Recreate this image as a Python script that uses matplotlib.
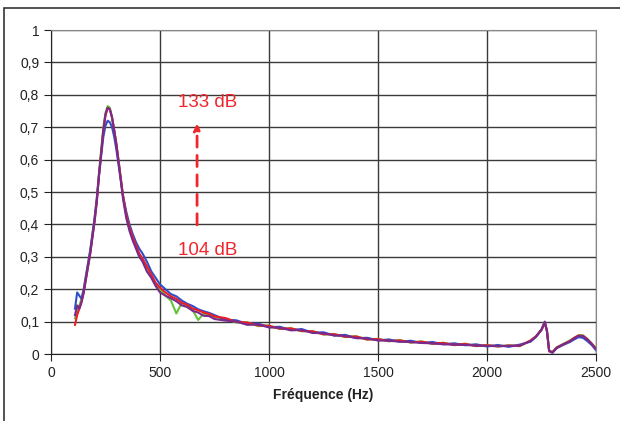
import matplotlib
matplotlib.use("Agg")
import matplotlib.pyplot as plt
from matplotlib.patches import Rectangle

plt.rcParams['font.family'] = ['Liberation Sans', 'DejaVu Sans']

freq = [110, 120, 130, 140, 150, 160, 170, 180, 190, 200,
        210, 220, 230, 240, 250, 260, 270, 280, 290, 300,
        315, 330, 345, 360, 375, 390, 405,
        420, 440, 460, 480, 500,
        525, 550, 575, 600, 625, 650, 675, 700, 725, 750,
        800, 850, 900, 950, 1000, 1050, 1100, 1150, 1200, 1250,
        1300, 1350, 1400, 1450, 1500, 1550, 1600, 1650, 1700, 1750,
        1800, 1850, 1900, 1950, 2000, 2050, 2100, 2150, 2200,
        2225, 2250, 2265, 2275, 2285, 2300, 2320, 2350, 2380, 2400,
        2420, 2440, 2460, 2480, 2500]

green = [0.11, 0.13, 0.15, 0.17, 0.20, 0.24, 0.28, 0.32, 0.37, 0.42,
         0.48, 0.56, 0.63, 0.70, 0.745, 0.765, 0.76, 0.73, 0.69, 0.645,
         0.57, 0.49, 0.43, 0.385, 0.355, 0.33, 0.30,
         0.29, 0.255, 0.24, 0.215, 0.2,
         0.18, 0.165, 0.125, 0.158, 0.145, 0.135, 0.105, 0.125, 0.12, 0.114,
         0.109, 0.097, 0.098, 0.086, 0.088, 0.077, 0.08, 0.07, 0.071, 0.06,
         0.062, 0.052, 0.055, 0.044, 0.047, 0.039, 0.043, 0.035, 0.039, 0.031,
         0.035, 0.027, 0.032, 0.024, 0.028, 0.023, 0.027, 0.024, 0.041,
         0.054, 0.075, 0.098, 0.07, 0.011, 0.006, 0.021, 0.031, 0.042, 0.05,
         0.058, 0.058, 0.047, 0.033, 0.018]

blue = [0.14, 0.19, 0.18, 0.17, 0.20, 0.24, 0.28, 0.32, 0.37, 0.42,
        0.48, 0.55, 0.61, 0.67, 0.705, 0.72, 0.715, 0.70, 0.67, 0.63,
        0.56, 0.49, 0.44, 0.40, 0.37, 0.345, 0.325,
        0.31, 0.285, 0.255, 0.235, 0.215,
        0.2, 0.185, 0.178, 0.165, 0.155, 0.148, 0.138, 0.132, 0.127, 0.12,
        0.106, 0.104, 0.093, 0.094, 0.083, 0.084, 0.074, 0.077, 0.066, 0.067,
        0.057, 0.059, 0.049, 0.05, 0.042, 0.045, 0.038, 0.041, 0.034, 0.037,
        0.03, 0.033, 0.027, 0.03, 0.023, 0.028, 0.022, 0.029, 0.038,
        0.053, 0.074, 0.096, 0.07, 0.01, 0.004, 0.018, 0.028, 0.037, 0.045,
        0.052, 0.05, 0.04, 0.028, 0.012]

red = [0.09, 0.12, 0.14, 0.16, 0.19, 0.23, 0.27, 0.31, 0.36, 0.41,
       0.47, 0.55, 0.62, 0.69, 0.735, 0.76, 0.755, 0.73, 0.69, 0.65,
       0.57, 0.49, 0.43, 0.39, 0.36, 0.335, 0.31,
       0.295, 0.27, 0.245, 0.22, 0.205,
       0.19, 0.178, 0.17, 0.158, 0.152, 0.14, 0.135, 0.128, 0.124, 0.116,
       0.111, 0.099, 0.097, 0.088, 0.087, 0.078, 0.079, 0.071, 0.07, 0.061,
       0.061, 0.053, 0.054, 0.045, 0.046, 0.04, 0.042, 0.036, 0.038, 0.032,
       0.034, 0.028, 0.031, 0.025, 0.027, 0.024, 0.026, 0.025, 0.042,
       0.055, 0.075, 0.097, 0.072, 0.008, 0.006, 0.02, 0.03, 0.04, 0.05,
       0.057, 0.056, 0.046, 0.032, 0.016]

purple = [0.12, 0.15, 0.14, 0.16, 0.19, 0.23, 0.27, 0.31, 0.36, 0.41,
          0.47, 0.55, 0.62, 0.69, 0.74, 0.76, 0.755, 0.73, 0.69, 0.645,
          0.565, 0.48, 0.42, 0.38, 0.35, 0.325, 0.30,
          0.285, 0.255, 0.235, 0.21, 0.19,
          0.18, 0.172, 0.163, 0.15, 0.145, 0.133, 0.128, 0.118, 0.117, 0.108,
          0.103, 0.1, 0.09, 0.091, 0.082, 0.081, 0.073, 0.074, 0.065, 0.064,
          0.057, 0.056, 0.049, 0.048, 0.042, 0.041, 0.038, 0.037, 0.034, 0.033,
          0.03, 0.029, 0.028, 0.026, 0.025, 0.024, 0.025, 0.026, 0.04,
          0.054, 0.076, 0.1, 0.073, 0.01, 0.004, 0.019, 0.03, 0.039, 0.048,
          0.056, 0.055, 0.045, 0.031, 0.014]

series = [(green, '#66c23a'), (blue, '#2f4fc8'), (red, '#f01c24'), (purple, '#7a2a8c')]

x_ticks = [0, 500, 1000, 1500, 2000, 2500]
y_ticks = [0, 0.1, 0.2, 0.3, 0.4, 0.5, 0.6, 0.7, 0.8, 0.9, 1]
y_labels = ['0', '0,1', '0,2', '0,3', '0,4', '0,5', '0,6', '0,7', '0,8', '0,9', '1']

fig = plt.figure(figsize=(6.2, 4.21), dpi=100)
ax = fig.add_axes([51/620, 1-354/421, 545/620, 324/421])

# outer frame around the whole chart
fig.patches.append(Rectangle((4/620, -0.05), 1.2, 1 - 8/421 + 0.05, transform=fig.transFigure,
                             fill=False, edgecolor='#333333', lw=1.2))

for vals, col in series:
    ax.plot(freq, vals, color=col, lw=1.5)

ax.set_xlim(0, 2500)
ax.set_ylim(0, 1)
ax.set_xticks(x_ticks)
ax.set_yticks(y_ticks)
ax.set_yticklabels(y_labels)
ax.tick_params(labelsize=10, colors='#222222', length=5, width=0.8)
ax.grid(True, color='#3a3a3a', lw=1.0)
ax.set_axisbelow(True)
for s in ['top', 'right']:
    ax.spines[s].set_color('#888888')
for s in ['left', 'bottom']:
    ax.spines[s].set_color('#222222')
ax.set_xlabel('Fréquence (Hz)', fontsize=10, fontweight='bold', color='#222222', labelpad=6)

red_txt = '#f0262c'
ax.annotate('', xy=(670, 0.72), xytext=(670, 0.39),
            arrowprops=dict(arrowstyle='-|>', color=red_txt, lw=2, linestyle=(0, (4, 3)),
                            mutation_scale=10))
ax.text(720, 0.775, '133 dB', color=red_txt, fontsize=13.5, ha='center', va='center')
ax.text(720, 0.32, '104 dB', color=red_txt, fontsize=13.5, ha='center', va='center')

fig.savefig('out.png', dpi=100)
